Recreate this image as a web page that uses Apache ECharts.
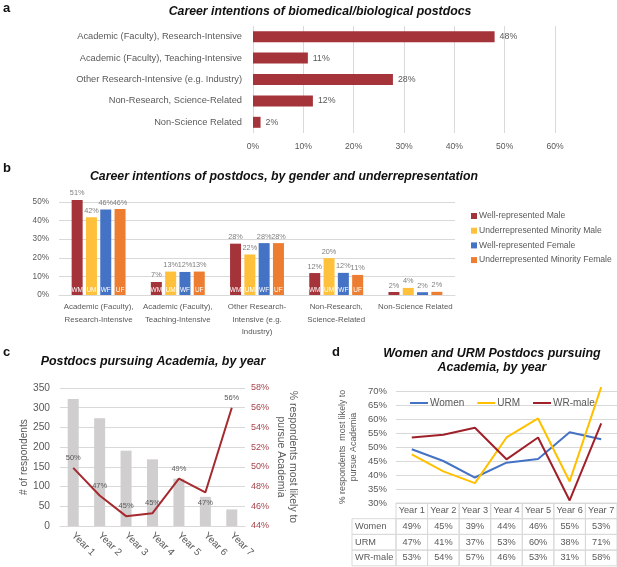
<!DOCTYPE html>
<html><head><meta charset="utf-8">
<script src="https://cdn.jsdelivr.net/npm/echarts@6/dist/echarts.min.js"></script>
<style>html,body{margin:0;padding:0;background:#fff}#c{width:617px;height:567px}</style>
</head><body><div id="c"></div><script>
// ---------- Panel a ----------
const aCategories = ['Academic (Faculty), Research-Intensive','Academic (Faculty), Teaching-Intensive','Other Research-Intensive (e.g. Industry)','Non-Research, Science-Related','Non-Science Related'];
const aValues = [48.0, 10.9, 27.8, 11.9, 1.5];

// ---------- Panel b ----------
const bCategories = ['Academic (Faculty),\nResearch-Intensive','Academic (Faculty),\nTeaching-Intensive','Other Research-\nIntensive (e.g.\nIndustry)','Non-Research,\nScience-Related','Non-Science Related'];
const bSeriesNames = ['Well-represented Male','Underrepresented Minority Male','Well-represented Female','Underrepresented Minority Female'];
const bShort = ['WM','UM','WF','UF'];
const bWM = [51.1, 7.0, 27.6, 11.8, 1.6];
const bUM = [41.8, 12.6, 21.8, 19.8, 3.8];
const bWF = [46.0, 12.4, 27.9, 11.9, 1.5];
const bUF = [46.2, 12.6, 27.9, 10.8, 1.7];

// ---------- Panel c ----------
const cYears = ['Year 1','Year 2','Year 3','Year 4','Year 5','Year 6','Year 7'];
const cRespondents = [322, 273, 191, 169, 120, 74, 42];
const cPercent = [49.9, 47.1, 45.0, 45.3, 48.8, 47.4, 56.0];

// ---------- Panel d ----------
const dYears = ['Year 1','Year 2','Year 3','Year 4','Year 5','Year 6','Year 7'];
const dRowNames = ['Women','URM','WR-male'];
const dWomen = [49.2, 45.0, 39.1, 44.4, 45.7, 55.3, 52.8];
const dURM = [47.4, 41.3, 37.1, 53.4, 60.2, 37.7, 71.4];
const dWRmale = [53.4, 54.4, 56.9, 45.6, 53.4, 30.9, 58.4];

// ---------- styling ----------
const FONT = "'Liberation Sans',Arial,sans-serif";
const TFONT = "'Liberation Sans',Arial,sans-serif";
const GRAY = '#595959';
const GRIDC = '#D9D9D9';
const RED = '#A5333A';
const LRED = '#A52A30';
const bColors = ['#A5333A','#FFC13B','#4472C4','#ED7D31'];
const pct = v => Math.round(v) + '%';

const chart = echarts.init(document.getElementById('c'));

function txt(text, x, y, font, align) {
  return {type:'text', x:x, y:y, silent:true,
    style:{text:text, font:font, fill:'#111', align:align||'left', verticalAlign:'middle', textAlign:align||'left', textVerticalAlign:'middle'}};
}

const bSeries = [bWM, bUM, bWF, bUF];
const series = [];
series.push({
  type:'bar', xAxisIndex:0, yAxisIndex:0, data:aValues, barWidth:11,
  itemStyle:{color:RED},
  label:{show:true, position:'right', distance:5, color:GRAY, fontSize:8.8, fontFamily:FONT, formatter:p=>pct(p.value)}
});
bSeries.forEach((arr, k) => {
  series.push({
    type:'bar', name:bSeriesNames[k], xAxisIndex:1, yAxisIndex:1, data:arr, barWidth:11, barGap:'30%', clip:false,
    itemStyle:{color:bColors[k]},
    label:{show:true, position:'top', distance:3, color:'#7f7f7f', fontSize:7.3, fontFamily:FONT, formatter:p=>pct(p.value)}
  });
});
bSeries.forEach((arr, k) => {
  series.push({
    type:'bar', name:bShort[k]+'-tag', xAxisIndex:2, yAxisIndex:1, data:arr, barWidth:11, barGap:'30%', clip:false, silent:true,
    itemStyle:{color:'rgba(0,0,0,0)'},
    label:{show:true, position:'insideBottom', distance:1, color:'#fff', fontSize:6.5, fontFamily:FONT,
      formatter:p=> p.value > 5 ? bShort[k] : ''}
  });
});
series.push({
  type:'bar', xAxisIndex:3, yAxisIndex:2, data:cRespondents, barWidth:11, itemStyle:{color:'#D0CECE'}
});
series.push({
  type:'line', xAxisIndex:3, yAxisIndex:3, symbol:'circle', symbolSize:0, showSymbol:true,
  lineStyle:{color:LRED, width:2}, itemStyle:{color:LRED},
  data:cPercent.map((v,i)=>({value:v, label:{position: i===5 ? 'bottom' : 'top'}})),
  label:{show:true, distance:6, color:GRAY, fontSize:7.5, fontFamily:FONT, formatter:p=>pct(p.value)}
});
const dLines = [dWomen, dURM, dWRmale];
const dColors = ['#4472C4','#FFC000','#A0202A'];
dLines.forEach((arr,k)=>{
  series.push({type:'line', name:dRowNames[k], xAxisIndex:4, yAxisIndex:4, data:arr, symbol:'none', clip:false,
    lineStyle:{color:dColors[k], width:2}, itemStyle:{color:dColors[k]}});
});
series.push({
  type:'custom', xAxisIndex:4, yAxisIndex:4, silent:true, clip:false,
  data:dYears.map((y,i)=>[i]),
  renderItem:function(params, api){
    const i = api.value(0);
    const p = api.coord([i, 30]);
    const bw = api.size([1,0])[0];
    const rowH = 15.7;
    const x0 = p[0]-bw/2, y0 = p[1];
    const cells = [dYears[i]].concat(dLines.map(a=>pct(a[i])));
    const children = [];
    const font = '9.2px ' + FONT;
    cells.forEach((t,r)=>{
      children.push({type:'rect', shape:{x:x0, y:y0+r*rowH, width:bw, height:rowH}, style:{fill:'none', stroke:GRIDC, lineWidth:1}});
      children.push({type:'text', x:p[0], y:y0+r*rowH+rowH/2, style:{text:t, font:font, fill:GRAY, align:'center', verticalAlign:'middle', textAlign:'center', textVerticalAlign:'middle'}});
    });
    if (i === 0) {
      const lw = 44;
      dRowNames.forEach((t,r)=>{
        children.push({type:'rect', shape:{x:x0-lw, y:y0+(r+1)*rowH, width:lw, height:rowH}, style:{fill:'none', stroke:GRIDC, lineWidth:1}});
        children.push({type:'text', x:x0-lw+3, y:y0+(r+1)*rowH+rowH/2, style:{text:t, font:font, fill:GRAY, align:'left', verticalAlign:'middle', textAlign:'left', textVerticalAlign:'middle'}});
      });
    }
    return {type:'group', children:children};
  }
});

const lbl = (size, extra) => Object.assign({color:GRAY, fontSize:size, fontFamily:FONT}, extra||{});
const option = {
  animation:false,
  textStyle:{fontFamily:FONT},
  grid:[
    {left:253, top:26, width:302, height:107},
    {left:59, top:202, width:396, height:93},
    {left:60, top:388, width:185, height:138},
    {left:396, top:391, width:221, height:112}
  ],
  xAxis:[
    {gridIndex:0, type:'value', min:0, max:60, interval:10, axisLine:{show:false}, axisTick:{show:false},
      splitLine:{lineStyle:{color:GRIDC}}, axisLabel:lbl(8.6, {formatter:'{value}%', margin:9})},
    {gridIndex:1, type:'category', data:bCategories, axisLine:{lineStyle:{color:GRIDC}}, axisTick:{show:false},
      axisLabel:lbl(7.9, {lineHeight:12.3, interval:0, margin:6})},
    {gridIndex:1, type:'category', data:bCategories, show:false},
    {gridIndex:2, type:'category', data:cYears, axisLine:{lineStyle:{color:GRIDC}}, axisTick:{show:false},
      axisLabel:lbl(10, {rotate:-45, margin:8, interval:0})},
    {gridIndex:3, type:'category', data:dYears, axisLine:{lineStyle:{color:GRIDC}}, axisTick:{show:false}, axisLabel:{show:false}}
  ],
  yAxis:[
    {gridIndex:0, type:'category', data:aCategories, inverse:true, axisLine:{show:false}, axisTick:{show:false},
      axisLabel:lbl(9.3, {margin:11})},
    {gridIndex:1, type:'value', min:0, max:50, interval:10, axisLine:{show:false}, axisTick:{show:false},
      splitLine:{lineStyle:{color:GRIDC}}, axisLabel:lbl(8.2, {formatter:'{value}%', margin:10})},
    {gridIndex:2, type:'value', min:0, max:350, interval:50, axisLine:{show:false}, axisTick:{show:false},
      splitLine:{lineStyle:{color:GRIDC}}, axisLabel:lbl(10.2, {margin:10}),
      name:'# of respondents', nameLocation:'middle', nameGap:26, nameTextStyle:lbl(10.2)},
    {gridIndex:2, type:'value', position:'right', min:44, max:58, interval:2, axisLine:{show:false}, axisTick:{show:false},
      splitLine:{show:false}, axisLabel:{formatter:'{value}%', margin:6, color:'#A5434A', fontSize:9, fontFamily:FONT},
      name:'% respondents most likely to\npursue Academia', nameLocation:'middle', nameRotate:-90, nameGap:30,
      nameTextStyle:lbl(10.4, {lineHeight:12})},
    {gridIndex:3, type:'value', min:30, max:70, interval:5, axisLine:{show:false}, axisTick:{show:false},
      splitLine:{lineStyle:{color:GRIDC}}, axisLabel:lbl(9.5, {formatter:'{value}%', margin:9}),
      name:'% respondents  most likely to\npursue Academia', nameLocation:'middle', nameGap:37,
      nameTextStyle:lbl(8.8, {lineHeight:11})}
  ],
  legend:[
    {data:bSeriesNames, orient:'vertical', left:466, top:205, itemWidth:6, itemHeight:6, itemGap:2.7, icon:'rect',
      textStyle:lbl(8.6, {lineHeight:12, padding:[0,0,0,-3]})},
    {data:dRowNames, left:405, top:393, itemWidth:18, itemHeight:2, itemGap:13, icon:'rect',
      textStyle:lbl(10, {padding:[0,0,0,-3]})}
  ],
  graphic:[
    txt('a', 3, 8, 'bold 13px '+TFONT),
    txt('b', 3, 168, 'bold 13px '+TFONT),
    txt('c', 3, 352, 'bold 13px '+TFONT),
    txt('d', 332, 352, 'bold 13px '+TFONT),
    txt('Career intentions of biomedical/biological postdocs', 320, 12, 'italic bold 12.3px '+TFONT, 'center'),
    txt('Career intentions of postdocs, by gender and underrepresentation', 284, 177, 'italic bold 12.3px '+TFONT, 'center'),
    txt('Postdocs pursuing Academia, by year', 153, 362, 'italic bold 12.4px '+TFONT, 'center'),
    txt('Women and URM Postdocs pursuing', 492, 354, 'italic bold 12.4px '+TFONT, 'center'),
    txt('Academia, by year', 492, 368, 'italic bold 12.4px '+TFONT, 'center')
  ],
  series:series
};
chart.setOption(option);
</script></body></html>
